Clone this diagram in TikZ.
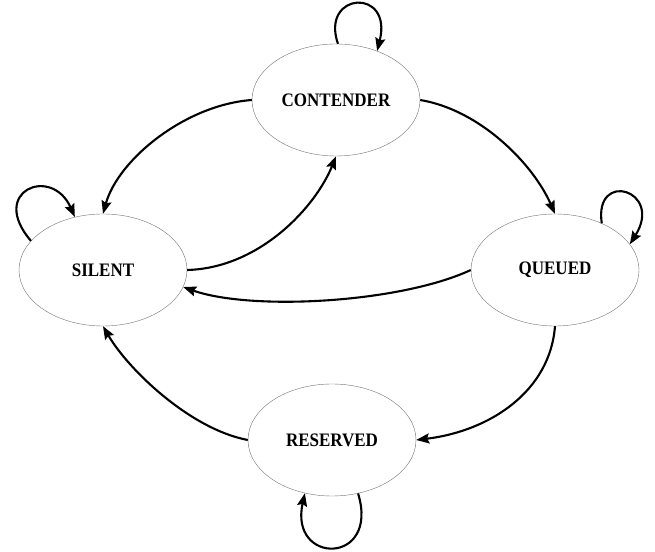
\documentclass[tikz,border=0pt]{standalone}
\usepackage{fontspec}
\setmainfont{Liberation Serif}
\usetikzlibrary{arrows.meta,shapes.geometric}
\newcommand\statelabel[1]{\scalebox{1}[1.12]{#1}}
\tikzset{
  state/.style={ellipse, draw=black!55, line width=0.4pt, minimum width=168pt, minimum height=112pt, inner sep=0pt,
    font=\fontsize{17}{20}\selectfont\bfseries},
  trans/.style={line width=2.1pt, -{Stealth[length=13pt,width=10pt,inset=2pt]}}
}
\begin{document}
\begin{tikzpicture}[x=1pt,y=1pt]
\useasboundingbox (0,0) rectangle (655,551);
\node[state] (C) at (336,451) {\statelabel{CONTENDER}};
\node[state] (S) at (103,281) {\statelabel{SILENT}};
\node[state] (Q) at (555,281) {\statelabel{QUEUED}};
\node[state] (R) at (332,111) {\statelabel{RESERVED}};
% transitions
\draw[trans] (C.west) .. controls +(-67,-5) and +(15,54) .. (S.north);
\draw[trans] (S.east) .. controls +(73,2) and +(-20,-50) .. (C.south);
\draw[trans] (C.east) .. controls +(60,-10) and +(-22,50) .. (Q.north);
\draw[trans] (Q.west) .. controls +(-71,-33) and +(68,-24) .. (S.-12);
\draw[trans] (Q.south) .. controls +(-5,-65) and +(74,9) .. (R.east);
\draw[trans] (R.west) .. controls +(-58,11) and +(25,-43) .. (S.south);
% self loops
\draw[trans] (C.88) .. controls +(-18,52) and +(16,64) .. (C.50);
\draw[trans] (S.158) .. controls +(-43,50) and +(-23,52) .. (S.118);
\draw[trans] (Q.45) .. controls +(-8,54) and +(34,54) .. (Q.19);
\draw[trans] (R.-64) .. controls +(22,-72) and +(-16,-72) .. (R.-117);
\end{tikzpicture}
\end{document}
